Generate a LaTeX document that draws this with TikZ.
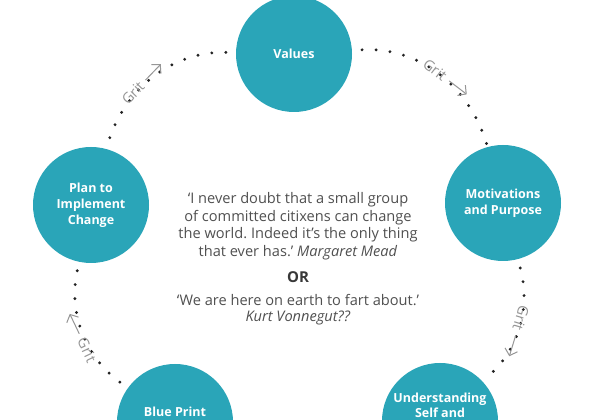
\documentclass[tikz,border=0pt]{standalone}
\usepackage{fontspec}
\setmainfont{Open Sans}
\usetikzlibrary{arrows.meta}
\frenchspacing
\definecolor{tealc}{RGB}{42,165,184}
\definecolor{quotec}{RGB}{80,80,80}
\definecolor{gritc}{RGB}{150,150,150}
\definecolor{dotc}{RGB}{35,35,35}
\begin{document}
\begin{tikzpicture}[x=1pt,y=1pt,
  bubble/.style={circle, fill=tealc, minimum size=116pt, inner sep=0pt, text=white,
    font=\fontsize{12.5}{16}\selectfont\bfseries, align=center},
  ctext/.style={text=white, font=\fontsize{12.5}{15}\selectfont\bfseries, align=center},
  dots/.style={draw=dotc, line width=3.2pt, line cap=round, dash pattern=on 0pt off 14pt},
  grit/.style={text=gritc, font=\fontsize{14.5}{16}\selectfont, inner sep=0pt},
  gritarrow/.style={draw=gritc, line width=1pt, -{Straight Barb[length=6pt,width=13pt]}},
  quote/.style={text=quotec, font=\fontsize{14.6}{17.5}\selectfont, align=center}]
\useasboundingbox (0,0) rectangle (600,420);
\fill[white] (0,0) rectangle (600,420);
% circles
\node[bubble] (values) at (294,366) {Values};
\node[bubble] (motiv) at (503,217) {Motivations\\and Purpose};
\node[bubble] (plan) at (91,215) {Plan to\\Implement\\Change};
\node[bubble] (blue) at (175,-2) {};
\node[ctext] (bluet) at (175,8) {Blue Print};
\node[bubble] (under) at (440,-1) {};
\node[ctext] (undert) at (440,14.5) {Understanding\\Self and};
% dotted connectors
\draw[dots, shorten <=10pt, shorten >=2pt] (values) to[bend right=38] (plan);
\draw[dots, shorten <=10pt] (values) to[bend left=39] (motiv);
\draw[dots, shorten <=9pt, shorten >=11pt] (motiv) to[bend left=31] (under);
\draw[dots, shorten <=9pt, shorten >=8pt] (plan) to[bend right=33] (blue);
% grit labels
\begin{scope}[shift={(133,327)}, rotate=46]
  \node[grit, rotate=46] (g1) at (0,0) {Grit};
  \coordinate (g1a) at (18,0); \coordinate (g1b) at (40,0);
  \draw[gritarrow] (g1a) -- (g1b);
\end{scope}
\begin{scope}[shift={(435,350)}, rotate=-37.5]
  \node[grit, rotate=-37.5] (g2) at (0,0) {Grit};
  \coordinate (g2a) at (18,0); \coordinate (g2b) at (40,0);
  \draw[gritarrow] (g2a) -- (g2b);
\end{scope}
\begin{scope}[shift={(521,102)}, rotate=-107]
  \node[grit, rotate=-107] (g3) at (0,0) {Grit};
  \coordinate (g3a) at (18,0); \coordinate (g3b) at (40,0);
  \draw[gritarrow] (g3a) -- (g3b);
\end{scope}
\begin{scope}[shift={(87,70)}, rotate=-64.5]
  \node[grit, rotate=-64.5] (g4) at (0,0) {Grit};
  \coordinate (g4a) at (-18,0); \coordinate (g4b) at (-40,0);
  \draw[gritarrow] (g4a) -- (g4b);
\end{scope}
% quotes
\node[quote] (q1) at (298,194) {‘I never doubt that a small group\\of committed citixens can change\\the world. Indeed it’s the only thing\\that ever has.’ \textit{Margaret Mead}};
\node[quote, font=\fontsize{15}{16}\selectfont\bfseries, text=black!78] (or) at (298,143) {OR};
\node[quote, font=\fontsize{14.6}{16}\selectfont] (q2) at (298,110) {‘We are here on earth to fart about.’\\\textit{Kurt Vonnegut??}};
\end{tikzpicture}
\end{document}
